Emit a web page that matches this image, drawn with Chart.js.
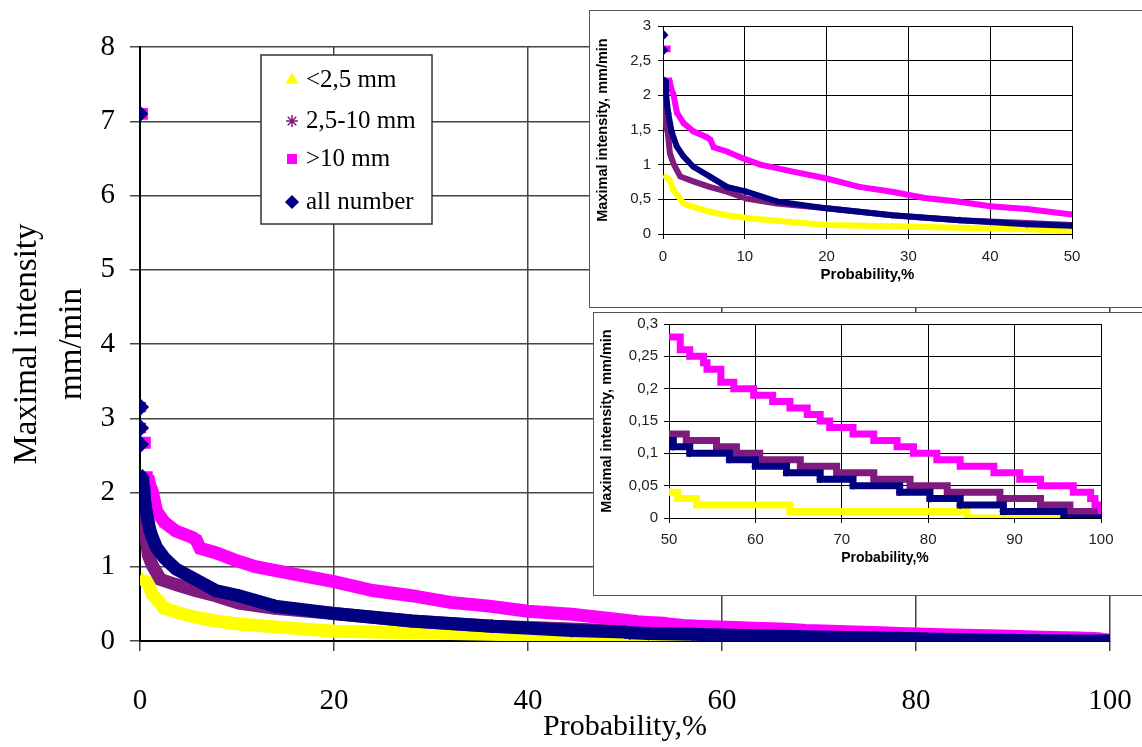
<!DOCTYPE html>
<html>
<head>
<meta charset="utf-8">
<script src="https://cdn.jsdelivr.net/npm/chart.js@4.4.1/dist/chart.umd.min.js"></script>
<style>
  body { margin: 0; background: #fff; }
  #wrap { position: relative; width: 1142px; height: 747px; overflow: hidden; }
  #main { position: absolute; left: 0; top: 0; }
  .inset { position: absolute; background: #fff; border: 1px solid #555; }
  #box1 { left: 589px; top: 10px; width: 552px; height: 296px; }
  #box2 { left: 593px; top: 312px; width: 548px; height: 282px; }
  .inset canvas { display: block; }
</style>
</head>
<body>
<div id="wrap">
  <canvas id="main" width="1142" height="747"></canvas>
  <div class="inset" id="box1"><canvas id="inset1" width="552" height="296"></canvas></div>
  <div class="inset" id="box2"><canvas id="inset2" width="548" height="282"></canvas></div>
</div>
<script>
// series (x = probability %, y = mm/min)
const seriesLabels = ['<2,5 mm', '2,5-10 mm', '>10 mm', 'all number'];

// <2,5 mm
const smallX = [0.25, 0.85, 1.26, 1.9, 2.5, 3.7, 5.7, 7.8, 10.2, 13.9, 20, 28, 36, 44.5];
const smallY = [0.83, 0.78, 0.63, 0.54, 0.44, 0.39, 0.32, 0.27, 0.23, 0.19, 0.13, 0.11, 0.09, 0.07];
const smallStepX = [50, 51, 53.2, 64, 84.5, 100];
const smallStepY = [0.04, 0.03, 0.02, 0.01, 0.0, 0.0];
const smallPeakX = [];
const smallPeakY = [];

// 2,5-10 mm
const midX = [0.1, 0.2, 0.4, 0.6, 0.85, 1.26, 2.1, 3.7, 5.7, 7.8, 10.2, 13.9, 20, 28, 36.3, 44.5];
const midY = [2.0, 1.75, 1.55, 1.45, 1.16, 1.02, 0.83, 0.76, 0.68, 0.61, 0.51, 0.44, 0.37, 0.27, 0.2, 0.16];
const midStepX = [50, 52, 55.5, 57.8, 60.5, 65.2, 69.4, 73.7, 77.9, 82.2, 88.3, 93, 96.4, 100];
const midStepY = [0.13, 0.12, 0.11, 0.10, 0.09, 0.08, 0.07, 0.06, 0.05, 0.04, 0.03, 0.02, 0.01, 0.01];
const midPeakX = [0.07, 0.07];
const midPeakY = [3.15, 2.87];

// >10 mm
const bigX = [0.8, 1.0, 1.3, 1.7, 2.5, 3.7, 5.3, 5.8, 6.2, 7.8, 9.8, 11.9, 15.9, 20, 24, 28, 32, 36, 40, 44.5];
const bigY = [2.22, 2.1, 2.0, 1.75, 1.6, 1.48, 1.4, 1.36, 1.25, 1.19, 1.09, 1.0, 0.9, 0.8, 0.68, 0.61, 0.52, 0.47, 0.4, 0.36];
const bigStepX = [50, 51.3, 52.4, 54, 54.4, 56, 57.5, 59.8, 62, 64, 66, 67.5, 68.6, 71.3, 73.7, 76.4, 78.3, 81, 83.7, 87.6, 90.6, 93, 96.8, 98.8, 99.3, 100];
const bigStepY = [0.28, 0.26, 0.25, 0.24, 0.23, 0.21, 0.20, 0.19, 0.18, 0.17, 0.16, 0.15, 0.14, 0.13, 0.12, 0.11, 0.10, 0.09, 0.08, 0.07, 0.06, 0.05, 0.04, 0.03, 0.02, 0.01];
const bigPeakX = [0.2, 0.5];
const bigPeakY = [7.1, 2.67];

// all number
const allX = [0.25, 0.35, 0.4, 0.5, 0.65, 0.85, 1.05, 1.26, 1.7, 2.5, 3.7, 5.7, 7.8, 10.2, 13.9, 20, 28, 36.3, 44.5];
const allY = [2.22, 2.08, 2.0, 1.86, 1.74, 1.6, 1.48, 1.4, 1.26, 1.12, 0.97, 0.83, 0.68, 0.61, 0.47, 0.37, 0.27, 0.2, 0.14];
const allStepX = [50, 50.5, 52.4, 57, 60, 63.6, 67.5, 71.3, 76.7, 80.2, 83.7, 88.7, 95.7, 100];
const allStepY = [0.12, 0.11, 0.10, 0.09, 0.08, 0.07, 0.06, 0.05, 0.04, 0.03, 0.02, 0.01, 0.0, 0.0];
const allPeakX = [0, 0.07, 0.07, 0.07];
const allPeakY = [7.1, 3.15, 2.87, 2.65];

const mainTicksX = [0, 20, 40, 60, 80, 100];
const mainTicksY = [0, 1, 2, 3, 4, 5, 6, 7, 8];

const colors = ['#ffff00', '#7f1a7f', '#ff00ff', '#000080'];
const markers = ['triangle', 'star', 'rect', 'rectRot'];
const drawOrder = [4, 3, 2, 1];

const serif = "'Liberation Serif', 'Times New Roman', serif";
const sans = "'Liberation Sans', Arial, sans-serif";

function pts(xs, ys) {
  return xs.map((x, i) => ({ x: x, y: ys[i] }));
}

const curves = [pts(smallX, smallY), pts(midX, midY), pts(bigX, bigY), pts(allX, allY)];
const steps = [pts(smallStepX, smallStepY), pts(midStepX, midStepY), pts(bigStepX, bigStepY), pts(allStepX, allStepY)];
const peaks = [pts(smallPeakX, smallPeakY), pts(midPeakX, midPeakY), pts(bigPeakX, bigPeakY), pts(allPeakX, allPeakY)];

function makeSets(lineW, rad, tailOnly) {
  let sets = [];
  for (let i = 0; i < 4; i++) {
    sets.push({
      label: seriesLabels[i],
      data: tailOnly ? steps[i] : curves[i].concat(steps[i]),
      showLine: true,
      stepped: tailOnly,
      borderColor: colors[i],
      backgroundColor: colors[i],
      borderWidth: lineW,
      pointStyle: markers[i],
      pointRadius: rad,
      pointBorderWidth: 1.5,
      pointBorderColor: colors[i],
      pointBackgroundColor: colors[i],
      order: drawOrder[i]
    });
    if (!tailOnly) {
      sets.push({
        label: seriesLabels[i] + ' peak',
        data: peaks[i],
        showLine: false,
        pointStyle: markers[i],
        pointRadius: rad + 1,
        pointBorderWidth: 2,
        pointBorderColor: colors[i],
        pointBackgroundColor: colors[i],
        order: drawOrder[i] - 0.5
      });
    }
  }
  return sets;
}

function comma(v) {
  return String(+Number(v).toFixed(2)).replace('.', ',');
}

// stop label overhang from moving the plot edges
function noPad(s) {
  s.paddingLeft = 0; s.paddingRight = 0; s.paddingTop = 0; s.paddingBottom = 0;
}

// legend drawn on the main canvas
const legendBox = {
  id: 'legendBox',
  afterDraw(chart) {
    const ctx = chart.ctx;
    const rows = [80, 121, 159, 202];
    ctx.save();
    ctx.fillStyle = '#fff';
    ctx.fillRect(261, 55, 171, 169);
    ctx.strokeStyle = '#333';
    ctx.lineWidth = 1.5;
    ctx.strokeRect(261, 55, 171, 169);
    for (let i = 0; i < 4; i++) {
      ctx.fillStyle = colors[i];
      ctx.strokeStyle = colors[i];
      ctx.lineWidth = 1.5;
      Chart.helpers.drawPoint(ctx, { pointStyle: markers[i], radius: 6, rotation: 0, borderWidth: 1.5 }, 292, rows[i]);
      ctx.fillStyle = '#000';
      ctx.font = '25px ' + serif;
      ctx.textBaseline = 'middle';
      ctx.textAlign = 'left';
      ctx.fillText(seriesLabels[i], 306, rows[i]);
    }
    ctx.restore();
  }
};

new Chart(document.getElementById('main'), {
  type: 'scatter',
  data: { datasets: makeSets(13, 6, false) },
  options: {
    responsive: false,
    animation: false,
    layout: { padding: { left: 0, top: 47, right: 32, bottom: 0 } },
    plugins: { legend: { display: false }, tooltip: { enabled: false } },
    scales: {
      x: {
        type: 'linear', min: mainTicksX[0], max: mainTicksX[mainTicksX.length - 1],
        afterBuildTicks: s => { s.ticks = mainTicksX.map(v => ({ value: v })); },
        ticks: { color: '#000', font: { family: serif, size: 29 }, padding: 33 },
        grid: { color: '#444', lineWidth: 1.5, tickLength: 10 },
        border: { color: '#000', width: 2 },
        title: { display: true, text: 'Probability,%', color: '#000', font: { family: serif, size: 30 }, padding: { top: 0, bottom: 2 } },
        afterFit: s => { s.height = 106; noPad(s); }
      },
      y: {
        type: 'linear', min: mainTicksY[0], max: mainTicksY[mainTicksY.length - 1],
        afterBuildTicks: s => { s.ticks = mainTicksY.map(v => ({ value: v })); },
        ticks: { color: '#000', font: { family: serif, size: 29 }, padding: 15 },
        grid: { color: '#444', lineWidth: 1.5, tickLength: 10 },
        border: { color: '#000', width: 2 },
        title: { display: true, text: ['Maximal intensity', 'mm/min'], color: '#000', font: { family: serif, size: 33, lineHeight: 1.36 }, padding: { top: 5, bottom: 0 } },
        afterFit: s => { s.width = 140; noPad(s); }
      }
    }
  },
  plugins: [legendBox]
});

// inset 0-50 %
new Chart(document.getElementById('inset1'), {
  type: 'scatter',
  data: { datasets: makeSets(6, 2.5, false) },
  options: {
    responsive: false,
    animation: false,
    layout: { padding: { left: 0, top: 15, right: 70, bottom: 0 } },
    plugins: { legend: { display: false }, tooltip: { enabled: false } },
    scales: {
      x: {
        type: 'linear', min: 0, max: 50,
        ticks: { stepSize: 10, color: '#222', font: { family: sans, size: 15 }, padding: 9 },
        grid: { color: '#000', lineWidth: 1, tickLength: 5 },
        border: { color: '#000', width: 1 },
        title: { display: true, text: 'Probability,%', color: '#000', font: { family: sans, size: 15, weight: 'bold' }, padding: { top: 0, bottom: 23 } },
        afterFit: s => { s.height = 73; noPad(s); }
      },
      y: {
        type: 'linear', min: 0, max: 3,
        ticks: { stepSize: 0.5, color: '#222', font: { family: sans, size: 15 }, padding: 7, callback: v => comma(v) },
        grid: { color: '#000', lineWidth: 1, tickLength: 5 },
        border: { color: '#000', width: 1 },
        title: { display: true, text: 'Maximal intensity, mm/min', color: '#000', font: { family: sans, size: 14.5, weight: 'bold' }, padding: { top: 4, bottom: 0 } },
        afterFit: s => { s.width = 73; noPad(s); }
      }
    }
  }
});

// inset 50-100 %
new Chart(document.getElementById('inset2'), {
  type: 'scatter',
  data: { datasets: makeSets(7, 3, true) },
  options: {
    responsive: false,
    animation: false,
    layout: { padding: { left: 0, top: 11, right: 41, bottom: 0 } },
    plugins: { legend: { display: false }, tooltip: { enabled: false } },
    scales: {
      x: {
        type: 'linear', min: 50, max: 100,
        ticks: { stepSize: 10, color: '#222', font: { family: sans, size: 15 }, padding: 8 },
        grid: { color: '#000', lineWidth: 1, tickLength: 5 },
        border: { color: '#000', width: 1 },
        title: { display: true, text: 'Probability,%', color: '#000', font: { family: sans, size: 14, weight: 'bold' }, padding: { top: 0, bottom: 28 } },
        afterFit: s => { s.height = 77; noPad(s); }
      },
      y: {
        type: 'linear', min: 0, max: 0.3,
        ticks: { stepSize: 0.05, color: '#222', font: { family: sans, size: 15 }, padding: 6, callback: v => comma(v) },
        grid: { color: '#000', lineWidth: 1, tickLength: 5 },
        border: { color: '#000', width: 1 },
        title: { display: true, text: 'Maximal intensity, mm/min', color: '#000', font: { family: sans, size: 14.5, weight: 'bold' }, padding: { top: 4, bottom: 0 } },
        afterFit: s => { s.width = 75; noPad(s); }
      }
    }
  }
});
</script>
</body>
</html>
